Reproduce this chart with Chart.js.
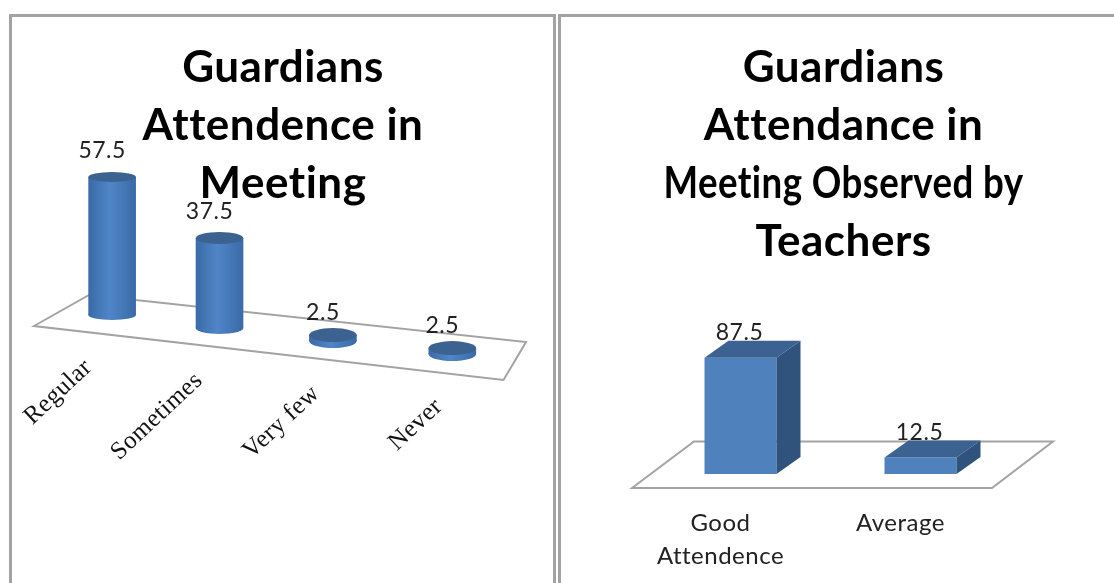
<!DOCTYPE html>
<html>
<head>
<meta charset="utf-8">
<script src="https://cdn.jsdelivr.net/npm/chart.js@4"></script>
<style>
    html, body { margin: 0; background: #fff; overflow: hidden; }
    #page { position: relative; width: 1114px; height: 583px; overflow: hidden; filter: blur(0.5px); }
    .frame { position: absolute; top: 14px; height: 600px; border: 3px solid #a3a3a3; box-sizing: border-box; }
    canvas { position: absolute; top: 0; }
</style>
</head>
<body>
<div id="page">
    <div class="frame" style="left: 9px; width: 547px;"></div>
    <div class="frame" style="left: 558px; width: 600px;"></div>
    <canvas id="left" width="546" height="583" style="left: 10px;"></canvas>
    <canvas id="right" width="542" height="583" style="left: 572px;"></canvas>
</div>
<script>
const leftTitle = ["Guardians", "Attendence in", "Meeting"];
const leftLabels = ["Regular", "Sometimes", "Very few", "Never"];
const leftValues = [57.5, 37.5, 2.5, 2.5];

const rightTitle = ["Guardians", "Attendance in", "Meeting Observed by", "Teachers"];
const rightLabels = [["Good", "Attendence"], "Average"];
const rightValues = [87.5, 12.5];

const FRONT = "#4f81bd";
const TOP = "#3b6290";
const SIDE = "#30537d";
const LABEL_FONT = "23px Lato";

function drawFloor(ctx, pts) {
    ctx.save();
    ctx.beginPath();
    pts.forEach(([x, y], i) => (i ? ctx.lineTo(x, y) : ctx.moveTo(x, y)));
    ctx.closePath();
    ctx.lineWidth = 2;
    ctx.strokeStyle = "#a3a3a3";
    ctx.stroke();
    ctx.restore();
}

function drawValues(chart, values, dx, dy) {
    const ctx = chart.ctx;
    ctx.save();
    ctx.font = LABEL_FONT;
    ctx.fillStyle = "#222";
    ctx.textAlign = "center";
    ctx.textBaseline = "middle";
    chart.getDatasetMeta(0).data.forEach((bar, i) => {
        ctx.fillText(values[i], bar.x + dx, bar.y + dy[i]);
    });
    ctx.restore();
}

// title sits off the chart area centre, and a bit of spacing stops Lato's "tt" ligature
function textSetup(titleShift) {
    return {
        id: "textSetup",
        afterLayout(chart) {
            chart.titleBlock.left += titleShift;
            chart.titleBlock.right += titleShift;
        },
        beforeDraw(chart) {
            chart.ctx.letterSpacing = "0.5px";
        }
    };
}

// floor of the left chart runs downhill, so bars and tick labels follow it
const tiltSlope = 0.115;
const tiltNudge = [1, -5, -5, 1];
const discHeight = [5, 6, 7, 7];

const cylinderPlugin = {
    id: "cylinders",
    afterDatasetsUpdate(chart) {
        const bars = chart.getDatasetMeta(0).data;
        const x0 = bars[0].x;
        bars.forEach((bar, i) => {
            const dy = tiltSlope * (bar.x - x0);
            bar.x += tiltNudge[i];
            bar.y += dy;
            bar.base += dy;
        });
        const items = chart.scales.x.getLabelItems();
        items.forEach((item, i) => {
            item.options.translation = [
                bars[i].x - 34 + i * 3.5,
                item.options.translation[1] + bars[i].base - bars[0].base
            ];
        });
    },
    beforeDatasetsDraw(chart) {
        const ctx = chart.ctx;
        drawFloor(ctx, [[24, 326], [79, 295], [516, 342], [493.5, 380]]);
        chart.getDatasetMeta(0).data.forEach((bar, i) => {
            ctx.beginPath();
            ctx.ellipse(bar.x, bar.base, bar.width / 2, discHeight[i], 0, 0, Math.PI * 2);
            ctx.fillStyle = bar.options.backgroundColor;
            ctx.fill();
        });
    },
    afterDatasetsDraw(chart) {
        const ctx = chart.ctx;
        drawValues(chart, leftValues, -10, [-26, -26, -23, -23]);
        chart.getDatasetMeta(0).data.forEach((bar, i) => {
            ctx.beginPath();
            ctx.ellipse(bar.x, bar.y, bar.width / 2, discHeight[i], 0, 0, Math.PI * 2);
            ctx.fillStyle = TOP;
            ctx.fill();
        });
    }
};

const boxPlugin = {
    id: "boxes",
    beforeDatasetsDraw(chart) {
        drawFloor(chart.ctx, [[60, 488], [122, 441.5], [481, 441.5], [420, 488]]);
    },
    afterDatasetsDraw(chart) {
        const ctx = chart.ctx;
        const dx = 24, dy = 17;
        drawValues(chart, rightValues, -1, [-25, -25]);
        chart.getDatasetMeta(0).data.forEach((bar) => {
            const l = bar.x - bar.width / 2;
            const r = bar.x + bar.width / 2;
            ctx.fillStyle = TOP;
            ctx.beginPath();
            ctx.moveTo(l, bar.y);
            ctx.lineTo(l + dx, bar.y - dy);
            ctx.lineTo(r + dx, bar.y - dy);
            ctx.lineTo(r, bar.y);
            ctx.closePath();
            ctx.fill();
            ctx.fillStyle = SIDE;
            ctx.beginPath();
            ctx.moveTo(r, bar.y);
            ctx.lineTo(r + dx, bar.y - dy);
            ctx.lineTo(r + dx, bar.base - dy);
            ctx.lineTo(r, bar.base);
            ctx.closePath();
            ctx.fill();
        });
    }
};

function cylinderFill(c) {
    const scale = c.chart.scales.x;
    if (!scale || c.dataIndex === undefined) return FRONT;
    const x = scale.getPixelForValue(c.dataIndex) + tiltNudge[c.dataIndex];
    if (!Number.isFinite(x)) return FRONT;
    const half = 24;
    const g = c.chart.ctx.createLinearGradient(x - half, 0, x + half, 0);
    g.addColorStop(0, "#3a6aa6");
    g.addColorStop(0.45, "#4f86c8");
    g.addColorStop(1, "#3a6aa6");
    return g;
}

function hiddenY() {
    return {display: false, min: 0, max: 100};
}

function titleOptions(text, bottom) {
    return {
        display: true,
        text: text,
        color: "#000",
        font: {family: "Lato", weight: "bold", size: 44, lineHeight: "58px"},
        padding: {top: 39, bottom: bottom}
    };
}

new Chart(document.getElementById("left"), {
    type: "bar",
    plugins: [textSetup(3), cylinderPlugin],
    data: {
        labels: leftLabels,
        datasets: [{
            data: leftValues,
            backgroundColor: cylinderFill,
            barPercentage: 0.42,
            categoryPercentage: 1,
            clip: false
        }]
    },
    options: {
        responsive: false,
        animation: false,
        layout: {padding: {left: 42, right: 48, bottom: 88}},
        plugins: {
            legend: {display: false},
            tooltip: {enabled: false},
            title: titleOptions(leftTitle, -138)
        },
        scales: {
            y: hiddenY(),
            x: {
                afterFit: (scale) => { scale.height = 180; },
                grid: {display: false, drawTicks: false},
                border: {display: false},
                ticks: {
                    autoSkip: false,
                    minRotation: 43,
                    maxRotation: 43,
                    padding: 38,
                    color: "#111",
                    font: {family: "Liberation Serif", size: 25}
                }
            }
        }
    }
});

new Chart(document.getElementById("right"), {
    type: "bar",
    plugins: [textSetup(13), boxPlugin],
    data: {
        labels: rightLabels,
        datasets: [{
            data: rightValues,
            backgroundColor: FRONT,
            barPercentage: 0.4,
            categoryPercentage: 1,
            clip: false
        }]
    },
    options: {
        responsive: false,
        animation: false,
        layout: {padding: {left: 78.5, right: 103.5, bottom: 9}},
        plugins: {
            legend: {display: false},
            tooltip: {enabled: false},
            title: titleOptions(rightTitle, 70)
        },
        scales: {
            y: hiddenY(),
            x: {
                afterFit: (scale) => { scale.height = 100; },
                grid: {display: false, drawTicks: false},
                border: {display: false},
                ticks: {
                    autoSkip: false,
                    maxRotation: 0,
                    padding: 33,
                    labelOffset: -20,
                    color: "#222",
                    font: {family: "Lato", size: 24, lineHeight: "33px"}
                }
            }
        }
    }
});
</script>
</body>
</html>
